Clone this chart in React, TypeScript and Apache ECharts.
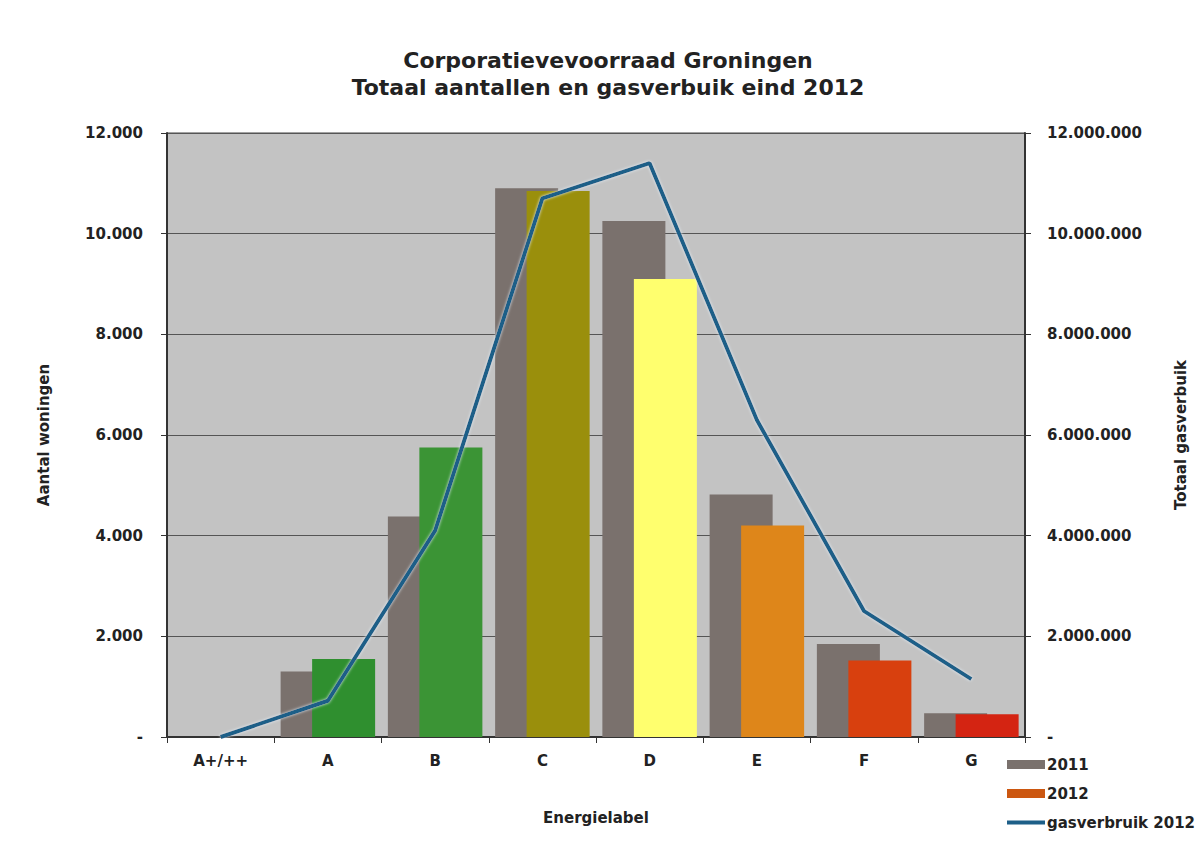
import React, { useEffect, useRef } from "react";
import * as echarts from "echarts";

const categories = ["A+/++", "A", "B", "C", "D", "E", "F", "G"];
const values2011 = [0, 1300, 4380, 10900, 10250, 4820, 1850, 470];
const values2012 = [0, 1550, 5750, 10850, 9100, 4200, 1520, 450];
const colors2012 = ["#2f8f2f", "#2f8f2f", "#3b9435", "#9a8f0c", "#ffff6e", "#de861a", "#d8400e", "#d42412"];
const gas2012 = [0, 720000, 4100000, 10700000, 11400000, 6300000, 2500000, 1150000];

const fmt = (v: number) => (v === 0 ? "-" : v.toLocaleString("de-DE"));
const FONT = "DejaVu Sans, Verdana, sans-serif";

export default function App() {
  const ref = useRef<HTMLDivElement>(null);
  useEffect(() => {
    if (!ref.current) return;
    const chart = echarts.init(ref.current, null, { renderer: "svg" });
    const labelStyle = { fontFamily: FONT, fontWeight: "bold" as const, fontSize: 15, color: "#222" };
    chart.setOption({
      animation: false,
      backgroundColor: "#ffffff",
      textStyle: { fontFamily: FONT },
      title: {
        text: "Corporatievevoorraad Groningen\nTotaal aantallen en gasverbuik eind 2012",
        left: 600,
        textAlign: "center",
        top: 39,
        padding: 0,
        textStyle: { fontFamily: FONT, fontWeight: "bold", fontSize: 22, lineHeight: 27, color: "#222" },
      },
      grid: {
        left: 159,
        right: 171,
        top: 125,
        bottom: 105,
        show: true,
        backgroundColor: "#c3c3c3",
        borderColor: "#444",
        borderWidth: 1,
      },
      legend: {
        orient: "vertical",
        left: 999,
        top: 749,
        padding: 0,
        itemWidth: 38,
        itemHeight: 9,
        itemGap: 14,
        textStyle: { ...labelStyle, padding: [0, 0, 0, -3] },
        data: [
          { name: "2011", icon: "rect", itemStyle: { color: "#7a716d" } },
          { name: "2012", icon: "rect", itemStyle: { color: "#cc5710" } },
          { name: "gasverbruik 2012", icon: "path://M0,0H40V4H0Z", itemStyle: { color: "#1d5f88" } },
        ],
      },
      xAxis: {
        type: "category",
        data: categories,
        name: "Energielabel",
        nameLocation: "middle",
        nameGap: 73,
        nameTextStyle: { ...labelStyle },
        axisLine: { lineStyle: { color: "#333", width: 2 } },
        axisTick: { show: true, length: 6, lineStyle: { color: "#333" } },
        axisLabel: { ...labelStyle, margin: 16 },
      },
      yAxis: [
        {
          type: "value",
          min: 0,
          max: 12000,
          interval: 2000,
          name: "Aantal woningen",
          nameLocation: "middle",
          nameGap: 116,
          nameRotate: 90,
          nameTextStyle: { ...labelStyle },
          axisLine: { show: true, lineStyle: { color: "#333", width: 2 } },
          axisTick: { show: true, length: 6, lineStyle: { color: "#333" } },
          axisLabel: { ...labelStyle, margin: 24, formatter: (v: number) => fmt(v) },
          splitLine: { show: true, lineStyle: { color: "#555", width: 1 } },
        },
        {
          type: "value",
          min: 0,
          max: 12000000,
          interval: 2000000,
          name: "Totaal gasverbuik",
          nameLocation: "middle",
          nameGap: 148,
          nameRotate: 90,
          nameTextStyle: { ...labelStyle },
          axisLine: { show: true, lineStyle: { color: "#333", width: 2 } },
          axisTick: { show: true, length: 6, lineStyle: { color: "#333" } },
          axisLabel: { ...labelStyle, margin: 22, formatter: (v: number) => fmt(v) },
          splitLine: { show: false },
        },
      ],
      series: [
        {
          name: "2011",
          type: "bar",
          data: values2011,
          barWidth: 63,
          barGap: "-50%",
          itemStyle: { color: "#7a716d" },
        },
        {
          name: "2012",
          type: "bar",
          data: values2012.map((v, i) => ({ value: v, itemStyle: { color: colors2012[i] } })),
          barWidth: 63,
          itemStyle: { color: "#cc5710" },
        },
        {
          name: "gasverbruik 2012",
          type: "line",
          yAxisIndex: 1,
          data: gas2012,
          symbol: "none",
          itemStyle: { color: "#1d5f88" },
          lineStyle: { color: "#1d5f88", width: 4, shadowColor: "rgba(230,245,255,0.9)", shadowBlur: 3 },
        },
      ],
    });
    return () => chart.dispose();
  }, []);
  return <div ref={ref} style={{ width: 1188, height: 834 }} />;
}
